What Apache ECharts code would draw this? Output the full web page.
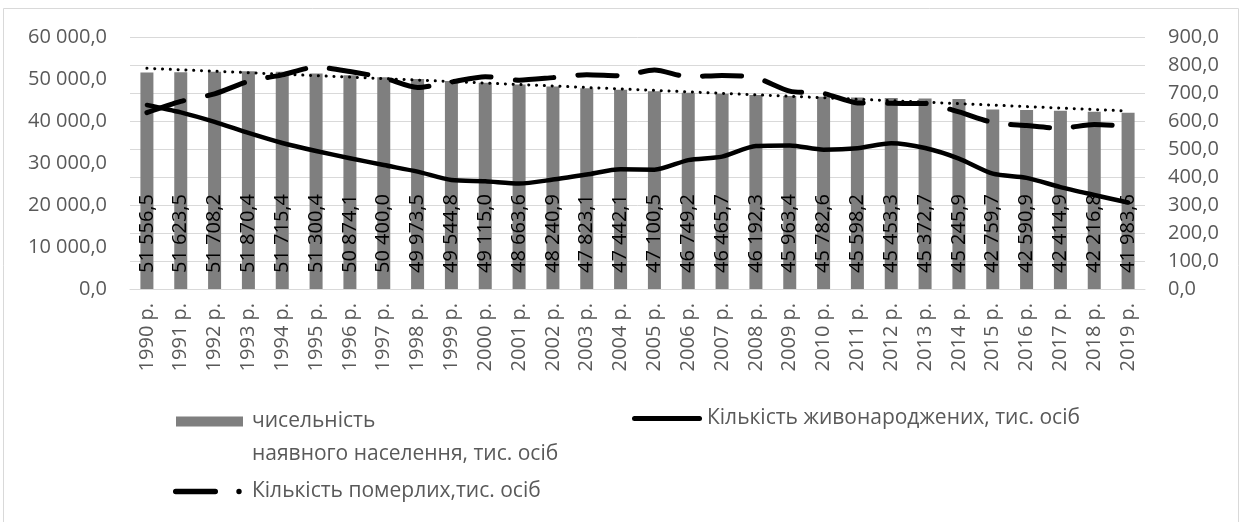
<!DOCTYPE html>
<html>
<head>
<meta charset="utf-8">
<script src="https://cdn.jsdelivr.net/npm/echarts@6/dist/echarts.min.js"></script>
<style>
  html, body { margin: 0; padding: 0; background: #fff; }
  #chart { width: 1241px; height: 522px; }
</style>
</head>
<body>
<div id="chart"></div>
<script>
// Years on the category axis
const years = [
  '1990 р.', '1991 р.', '1992 р.', '1993 р.', '1994 р.', '1995 р.', '1996 р.', '1997 р.',
  '1998 р.', '1999 р.', '2000 р.', '2001 р.', '2002 р.', '2003 р.', '2004 р.', '2005 р.',
  '2006 р.', '2007 р.', '2008 р.', '2009 р.', '2010 р.', '2011 р.', '2012 р.', '2013 р.',
  '2014 р.', '2015 р.', '2016 р.', '2017 р.', '2018 р.', '2019 р.'
];

// Present population, thousand persons (left axis)
const population = [
  51556.5, 51623.5, 51708.2, 51870.4, 51715.4, 51300.4, 50874.1, 50400.0,
  49973.5, 49544.8, 49115.0, 48663.6, 48240.9, 47823.1, 47442.1, 47100.5,
  46749.2, 46465.7, 46192.3, 45963.4, 45782.6, 45598.2, 45453.3, 45372.7,
  45245.9, 42759.7, 42590.9, 42414.9, 42216.8, 41983.6
];

// Live births, thousand persons (right axis)
const births = [
  657.2, 630.8, 596.8, 557.5, 521.6, 492.9, 467.2, 442.6,
  419.2, 389.2, 385.1, 376.5, 390.7, 408.6, 427.3, 426.1,
  460.4, 472.7, 510.6, 512.5, 497.7, 502.6, 520.7, 503.7,
  465.9, 411.8, 397.0, 364.0, 335.9, 308.8
];

// Deaths, thousand persons (right axis)
const deaths = [
  629.6, 669.9, 697.1, 741.7, 764.7, 792.6, 776.7, 754.2,
  719.9, 739.2, 758.1, 745.9, 754.9, 765.4, 761.3, 782.0,
  758.1, 762.9, 754.5, 706.7, 698.2, 664.6, 663.1, 662.4,
  632.3, 594.8, 583.6, 574.1, 587.7, 581.1
];

// Linear population trend, first and last year (left axis)
const trendEnds = [52550, 42380];

// Axis tick values
const leftTicks = [0, 10000, 20000, 30000, 40000, 50000, 60000];
const rightTicks = [0, 100, 200, 300, 400, 500, 600, 700, 800, 900];

const NAME_POP = 'чисельність наявного населення, тис. осіб';
const NAME_BIRTHS = 'Кількість живонароджених, тис. осіб';
const NAME_DEATHS = 'Кількість померлих,тис. осіб';

const FONT = '"Open Sans", "Noto Sans", sans-serif';
const GREY_TEXT = '#595959';
const GRID_LINE = '#d9d9d9';

// 51556.5 -> "51 556,5"
function fmt(v) {
  const parts = Number(v).toFixed(1).split('.');
  const intPart = parts[0].replace(/\B(?=(\d{3})+(?!\d))/g, ' ');
  return intPart + ',' + parts[1];
}

const chart = echarts.init(document.getElementById('chart'), null, { renderer: 'canvas' });

const option = {
  backgroundColor: '#fff',
  animation: false,
  textStyle: { fontFamily: FONT },
  graphic: [{
    type: 'rect',
    silent: true,
    z: -10,
    shape: { x: 3.5, y: 8.5, width: 1235, height: 530 },
    style: { fill: 'none', stroke: GRID_LINE, lineWidth: 1 }
  }],
  grid: { left: 130, right: 96, top: 37, bottom: 233, containLabel: false },
  legend: [
    {
      data: [NAME_POP],
      left: 176, top: 405, padding: 0,
      itemWidth: 67, itemHeight: 43.1,
      icon: 'path://M0,0H67V10H0Z M0,43H0.1V43.1H0Z',
      itemStyle: { color: '#7f7f7f', borderWidth: 0 },
      selectedMode: false,
      formatter: function () { return 'чисельність\nнаявного населення, тис. осіб'; },
      textStyle: { color: GREY_TEXT, fontSize: 21, fontFamily: FONT, lineHeight: 33, padding: [0, 0, 0, 4] }
    },
    {
      data: [NAME_BIRTHS],
      left: 632, top: 408, padding: 0,
      itemWidth: 70, itemHeight: 5,
      icon: 'path://M2.5,0H67.5A2.5,2.5,0,0,1,67.5,5H2.5A2.5,2.5,0,0,1,2.5,0Z',
      itemStyle: { color: '#000', borderWidth: 0 },
      selectedMode: false,
      textStyle: { color: GREY_TEXT, fontSize: 21, fontFamily: FONT, padding: [0, 0, 0, 0] }
    },
    {
      data: [NAME_DEATHS],
      left: 173, top: 481, padding: 0,
      itemWidth: 74, itemHeight: 5.4,
      icon: 'path://M2.7,0H42.3A2.7,2.7,0,0,1,42.3,5.4H2.7A2.7,2.7,0,0,1,2.7,0Z M63.3,2.7A2.7,2.7,0,1,0,68.7,2.7A2.7,2.7,0,1,0,63.3,2.7Z M73.9,2.6H74V2.7H73.9Z',
      itemStyle: { color: '#000', borderWidth: 0 },
      selectedMode: false,
      textStyle: { color: GREY_TEXT, fontSize: 21, fontFamily: FONT, padding: [0, 0, 0, 0] }
    }
  ],
  xAxis: {
    type: 'category',
    data: years,
    boundaryGap: true,
    axisLine: { show: true, lineStyle: { color: GRID_LINE, width: 1 } },
    axisTick: { show: false },
    splitLine: { show: false },
    axisLabel: {
      rotate: 90,
      interval: 0,
      margin: 14,
      color: GREY_TEXT,
      fontSize: 20,
      fontFamily: FONT
    }
  },
  yAxis: [
    {
      type: 'value',
      min: leftTicks[0],
      max: leftTicks[leftTicks.length - 1],
      interval: leftTicks[1] - leftTicks[0],
      position: 'left',
      axisLine: { show: false },
      axisTick: { show: false },
      splitLine: { show: false },
      axisLabel: {
        margin: 23,
        color: GREY_TEXT,
        fontSize: 20,
        fontFamily: FONT,
        formatter: fmt
      }
    },
    {
      type: 'value',
      min: rightTicks[0],
      max: rightTicks[rightTicks.length - 1],
      interval: rightTicks[1] - rightTicks[0],
      position: 'right',
      axisLine: { show: false },
      axisTick: { show: false },
      splitLine: { show: true, lineStyle: { color: GRID_LINE, width: 1 } },
      axisLabel: {
        margin: 23,
        color: GREY_TEXT,
        fontSize: 20,
        fontFamily: FONT,
        formatter: fmt
      }
    }
  ],
  series: [
    {
      name: NAME_POP,
      type: 'bar',
      yAxisIndex: 0,
      data: population,
      barWidth: 13,
      z: 2,
      itemStyle: { color: '#7f7f7f' },
      label: {
        show: true,
        position: 'insideBottom',
        rotate: 90,
        align: 'left',
        verticalAlign: 'middle',
        distance: 16,
        color: '#000',
        fontSize: 20,
        fontFamily: FONT,
        formatter: function (p) { return fmt(p.value); }
      }
    },
    {
      name: 'trend',
      type: 'line',
      yAxisIndex: 0,
      data: [[0, trendEnds[0]], [years.length - 1, trendEnds[1]]],
      showSymbol: false,
      symbol: 'none',
      z: 6,
      lineStyle: { color: '#000', width: 3, type: [0.1, 7.7], cap: 'round' }
    },
    {
      name: NAME_BIRTHS,
      type: 'line',
      yAxisIndex: 1,
      data: births,
      smooth: 0.25,
      showSymbol: false,
      symbol: 'none',
      z: 5,
      itemStyle: { color: '#000' },
      lineStyle: { color: '#000', width: 4.5, cap: 'round', join: 'round' }
    },
    {
      name: NAME_DEATHS,
      type: 'line',
      yAxisIndex: 1,
      data: deaths,
      smooth: 0.25,
      showSymbol: false,
      symbol: 'none',
      z: 5,
      itemStyle: { color: '#000' },
      lineStyle: { color: '#000', width: 5, type: [39, 24], cap: 'round', join: 'round' }
    }
  ]
};

chart.setOption(option);
</script>
</body>
</html>
